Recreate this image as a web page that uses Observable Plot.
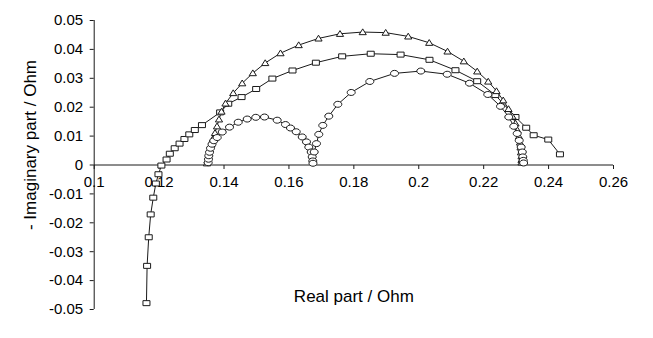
<!DOCTYPE html>
<html>
<head>
<meta charset="utf-8">
<script src="https://cdn.jsdelivr.net/npm/d3@7"></script>
<script src="https://cdn.jsdelivr.net/npm/@observablehq/plot@0.6"></script>
<style>
  html, body { margin: 0; padding: 0; background: #fff; }
  #chart { width: 653px; height: 338px; }
</style>
</head>
<body>
<div id="chart"></div>
<script>
// ---- Data ----
const squareRe = [0.1161, 0.1163, 0.1168, 0.1174, 0.1182, 0.1190, 0.1198, 0.1207, 0.1223, 0.1233, 0.1248, 0.1263, 0.1278, 0.1293, 0.1310, 0.1332, 0.1388, 0.1413, 0.1454, 0.1499, 0.1549, 0.1611, 0.1683, 0.1764, 0.1852, 0.1944, 0.2033, 0.2113, 0.2180, 0.2236, 0.2298, 0.2331, 0.2354, 0.2399, 0.2435];
const squareIm = [-0.0478, -0.0349, -0.0250, -0.0171, -0.0113, -0.0064, -0.0032, -0.0002, 0.0019, 0.0039, 0.0058, 0.0074, 0.0090, 0.0106, 0.0121, 0.0138, 0.0182, 0.0212, 0.0235, 0.0263, 0.0299, 0.0327, 0.0354, 0.0376, 0.0385, 0.0382, 0.0364, 0.0328, 0.0290, 0.0242, 0.0166, 0.0129, 0.0103, 0.0088, 0.0037];

const triangleRe = [0.13475, 0.13491, 0.13506, 0.13537, 0.13568, 0.13614, 0.13660, 0.13722, 0.13784, 0.13845, 0.13922, 0.14045, 0.14283, 0.14560, 0.14887, 0.15269, 0.15740, 0.16301, 0.16911, 0.17573, 0.18273, 0.18981, 0.19675, 0.20322, 0.20886, 0.21388, 0.21801, 0.22140, 0.22395, 0.22602, 0.22765, 0.22888, 0.22981, 0.23043, 0.23089, 0.23120, 0.23135, 0.23150, 0.23166, 0.23166, 0.23166];
const triangleIm = [0.0006, 0.0016, 0.0027, 0.0041, 0.0054, 0.0072, 0.0091, 0.0111, 0.0134, 0.0158, 0.0185, 0.0213, 0.0249, 0.0283, 0.0318, 0.0353, 0.0387, 0.0415, 0.0438, 0.0454, 0.0460, 0.0458, 0.0445, 0.0423, 0.0393, 0.0359, 0.0324, 0.0289, 0.0256, 0.0224, 0.0194, 0.0168, 0.0144, 0.0120, 0.0099, 0.0078, 0.0061, 0.0044, 0.0030, 0.0018, 0.0009];

const circleRe = [0.13512, 0.13522, 0.13531, 0.13553, 0.13583, 0.13630, 0.13685, 0.13790, 0.13944, 0.14169, 0.14437, 0.14714, 0.14979, 0.15247, 0.15638, 0.15894, 0.16048, 0.16224, 0.16409, 0.16541, 0.16612, 0.16686, 0.16717, 0.16735, 0.16741,
                  0.16778, 0.16849, 0.16920, 0.17043, 0.17228, 0.17506, 0.17918, 0.18492, 0.19253, 0.20063, 0.20876, 0.21564, 0.22127, 0.22519, 0.22774, 0.22928, 0.23033, 0.23095, 0.23156, 0.23190, 0.23205, 0.23220, 0.23230];
const circleIm = [0.0008, 0.0020, 0.0032, 0.0044, 0.0058, 0.0072, 0.0084, 0.0095, 0.0114, 0.0131, 0.0148, 0.0159, 0.0165, 0.0166, 0.0155, 0.0140, 0.0128, 0.0115, 0.0097, 0.0080, 0.0062, 0.0045, 0.0028, 0.0014, 0.0006,
                  0.0045, 0.0074, 0.0106, 0.0137, 0.0169, 0.0210, 0.0251, 0.0289, 0.0317, 0.0325, 0.0314, 0.0283, 0.0244, 0.0203, 0.0166, 0.0134, 0.0109, 0.0085, 0.0062, 0.0045, 0.0028, 0.0016, 0.0007];

const xTicks = [0.1, 0.12, 0.14, 0.16, 0.18, 0.2, 0.22, 0.24, 0.26];
const xTickLabels = ["0.1", "0.12", "0.14", "0.16", "0.18", "0.2", "0.22", "0.24", "0.26"];
const yTicks = [0.05, 0.04, 0.03, 0.02, 0.01, 0, -0.01, -0.02, -0.03, -0.04, -0.05];
const yTickLabels = ["0.05", "0.04", "0.03", "0.02", "0.01", "0", "-0.01", "-0.02", "-0.03", "-0.04", "-0.05"];
const xTitle = "Real part / Ohm";
const yTitle = "- Imaginary part / Ohm";

// ---- Build tables ----
const squares = squareRe.map((re, i) => ({re, im: squareIm[i]}));
const triangles = triangleRe.map((re, i) => ({re, im: triangleIm[i]}));
const circles = circleRe.map((re, i) => ({re, im: circleIm[i]}));
const xTickData = xTicks.map((v, i) => ({v, label: xTickLabels[i]}));

// ---- Custom marker symbols (Excel-like, slightly wide) ----
const wideSquare = {draw(ctx) { ctx.rect(-3.5, -2.5, 7, 5); }};
const wideTriangle = {draw(ctx) { ctx.moveTo(0, -3.2); ctx.lineTo(3.6, 2.6); ctx.lineTo(-3.6, 2.6); ctx.closePath(); }};
const wideCircle = {draw(ctx) {
  const rx = 4, ry = 3, k = 0.5523;
  ctx.moveTo(rx, 0);
  ctx.bezierCurveTo(rx, k * ry, k * rx, ry, 0, ry);
  ctx.bezierCurveTo(-k * rx, ry, -rx, k * ry, -rx, 0);
  ctx.bezierCurveTo(-rx, -k * ry, -k * rx, -ry, 0, -ry);
  ctx.bezierCurveTo(k * rx, -ry, rx, -k * ry, rx, 0);
  ctx.closePath();
}};
const tickDown = {draw(ctx) { ctx.moveTo(0, 0); ctx.lineTo(0, 4); }};

const ink = "#1a1a1a";
const font = "'Liberation Sans', Arial, sans-serif";

const chart = Plot.plot({
  width: 653,
  height: 338,
  marginLeft: 93.7,
  marginRight: 40,
  marginTop: 20,
  marginBottom: 29,
  style: {fontFamily: font, fontSize: "15px", color: "#000", background: "#fff"},
  x: {domain: [0.1, 0.26], axis: null},
  y: {domain: [-0.05, 0.05], axis: null},
  marks: [
    // y axis
    Plot.axisY({ticks: yTicks, tickFormat: (d, i) => yTickLabels[i], tickSize: 4, tickPadding: 7, fontSize: 15, label: null, stroke: ink}),
    Plot.ruleX([0.1], {stroke: ink, strokeWidth: 1}),
    // x axis on y = 0
    Plot.ruleY([0], {stroke: ink, strokeWidth: 1}),
    Plot.dot(xTickData, {x: "v", y: () => 0, symbol: tickDown, stroke: ink, fill: "none", strokeWidth: 1}),
    Plot.text(xTickData, {x: "v", y: () => 0, text: "label", dy: 17, fontSize: 15, fill: "#000"}),
    // axis titles
    Plot.text([xTitle], {frameAnchor: "bottom", dy: -8, fontSize: 17, fill: "#000"}),
    Plot.text([yTitle], {frameAnchor: "left", textAnchor: "middle", rotate: -90, dx: -64, dy: -20, fontSize: 17, fill: "#000"}),
    // series: lines
    Plot.line(squares, {x: "re", y: "im", stroke: ink, strokeWidth: 1}),
    Plot.line(triangles, {x: "re", y: "im", stroke: ink, strokeWidth: 1}),
    Plot.line(circles, {x: "re", y: "im", stroke: ink, strokeWidth: 1}),
    // series: markers
    Plot.dot(squares, {x: "re", y: "im", symbol: wideSquare, fill: "white", stroke: ink, strokeWidth: 1}),
    Plot.dot(triangles, {x: "re", y: "im", symbol: wideTriangle, fill: "white", stroke: ink, strokeWidth: 1}),
    Plot.dot(circles, {x: "re", y: "im", symbol: wideCircle, fill: "white", stroke: ink, strokeWidth: 1})
  ]
});
document.getElementById("chart").appendChild(chart);
</script>
</body>
</html>
